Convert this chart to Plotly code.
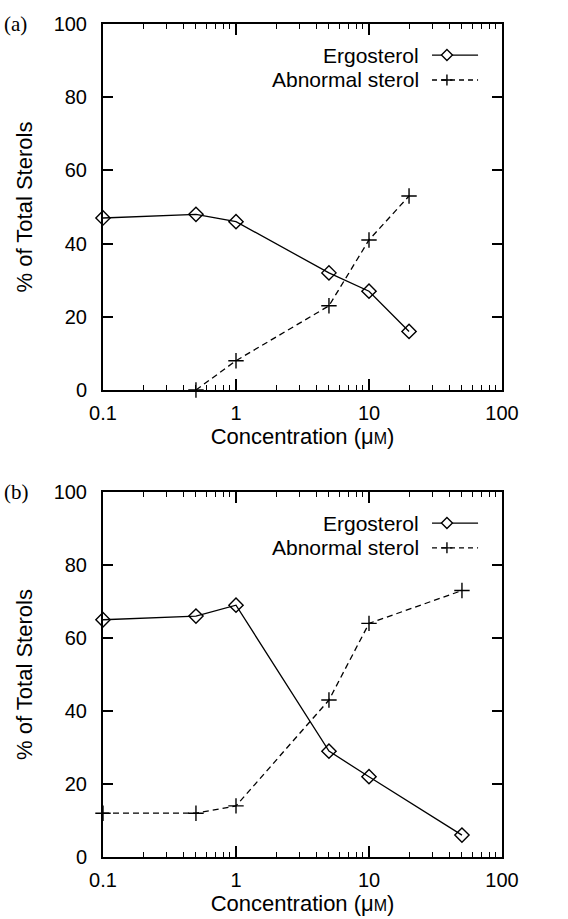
import plotly.graph_objects as go

# ---- data ----
conc_a = [0.1, 0.5, 1, 5, 10, 20]
ergo_a = [47, 48, 46, 32, 27, 16]
abn_conc_a = [0.5, 1, 5, 10, 20]
abn_a = [0, 8, 23, 41, 53]

conc_b = [0.1, 0.5, 1, 5, 10, 50]
ergo_b = [65, 66, 69, 29, 22, 6]
abn_b = [12, 12, 14, 43, 64, 73]

x_ticks = [0.1, 1, 10, 100]
x_tick_labels = ["0.1", "1", "10", "100"]
x_minor_ticks = [m * d for d in (0.1, 1, 10) for m in range(2, 10)]
y_ticks = [0, 20, 40, 60, 80, 100]

FONT = "Liberation Sans, Arial, Helvetica, sans-serif"
BLACK = "black"

fig = go.Figure()

def add_panel(xs, ys, xa, ya, sym, dash, name):
    fig.add_trace(go.Scatter(
        x=xs, y=ys, xaxis=xa, yaxis=ya, mode="lines+markers", name=name,
        line=dict(color=BLACK, width=1.3, dash=dash),
        marker=dict(symbol=sym, size=11 if "diamond" in sym else 11,
                    color=BLACK, line=dict(color=BLACK, width=1.4)),
        cliponaxis=False, showlegend=False))

add_panel(conc_a, ergo_a, "x", "y", "diamond-open", "solid", "Ergosterol")
add_panel(abn_conc_a, abn_a, "x", "y", "cross-thin-open", "6px,4px", "Abnormal sterol")
add_panel(conc_b, ergo_b, "x2", "y2", "diamond-open", "solid", "Ergosterol")
add_panel(conc_b, abn_b, "x2", "y2", "cross-thin-open", "6px,4px", "Abnormal sterol")

def xaxis(anchor):
    return dict(type="log", range=[-1, 2], anchor=anchor,
                tickvals=x_ticks, ticktext=x_tick_labels,
                ticks="inside", ticklen=11, tickwidth=1.5, tickcolor=BLACK,
                minor=dict(ticks="inside", tickvals=x_minor_ticks, ticklen=5, tickwidth=1.3,
                           tickcolor=BLACK, showgrid=False),
                showline=True, linecolor=BLACK, linewidth=2, mirror="allticks",
                showgrid=False, zeroline=False, ticklabelstandoff=4,
                tickfont=dict(family=FONT, size=20, color=BLACK),
                title=dict(text="Concentration (μ<span style='font-size:16px'>M</span>)",
                           font=dict(family=FONT, size=22, color=BLACK), standoff=2))

def yaxis(anchor, domain):
    return dict(range=[0, 100], domain=domain, anchor=anchor,
                tickvals=y_ticks, ticks="inside", ticklen=10, tickwidth=1.5, tickcolor=BLACK,
                showline=True, linecolor=BLACK, linewidth=2, mirror="allticks",
                showgrid=False, zeroline=False, ticklabelstandoff=10,
                tickfont=dict(family=FONT, size=20, color=BLACK),
                title=dict(text="% of Total Sterols",
                           font=dict(family=FONT, size=22, color=BLACK), standoff=15))

dom_a = [467 / 833, 1.0]
dom_b = [0.0, 365 / 833]

fig.update_layout(
    width=568, height=919,
    margin=dict(l=103, r=66, t=24, b=62),
    paper_bgcolor="white", plot_bgcolor="white",
    xaxis=xaxis("y"), yaxis=yaxis("x", dom_a),
    xaxis2=xaxis("y2"), yaxis2=yaxis("x2", dom_b),
    showlegend=False,
)

annotations = []
shapes = []
legend_items = [("Ergosterol", "solid", "diamond", 0.915),
                ("Abnormal sterol", "dash", "plus", 0.847)]
for xr, yr in [("x domain", "y domain"), ("x2 domain", "y2 domain")]:
    for label, dash, sym, yy in legend_items:
        annotations.append(dict(text=label, xref=xr, yref=yr, x=0.797, y=yy,
                                xanchor="right", yanchor="middle", showarrow=False,
                                font=dict(family=FONT, size=21, color=BLACK)))
        shapes.append(dict(type="line", xref=xr, yref=yr, x0=0.8246, x1=0.94, y0=yy, y1=yy,
                           line=dict(color=BLACK, width=1.3, dash="solid" if dash == "solid" else "5px,4px")))
        if sym == "diamond":
            path = "M -5.5 0 L 0 5.5 L 5.5 0 L 0 -5.5 Z"
            fill = "white"
        else:
            path = "M -5.5 0 L 5.5 0 M 0 -5.5 L 0 5.5"
            fill = None
        sh = dict(type="path", xref=xr, yref=yr, xsizemode="pixel", ysizemode="pixel",
                  xanchor=0.862, yanchor=yy, path=path,
                  line=dict(color=BLACK, width=1.4))
        if fill:
            sh["fillcolor"] = fill
        shapes.append(sh)

annotations.append(dict(text="(a)", xref="paper", yref="paper", x=-103 / 399 + 2 / 399, y=1.0,
                        xanchor="left", yanchor="middle", showarrow=False,
                        font=dict(family="Liberation Serif, Times New Roman, serif", size=21, color=BLACK)))
annotations.append(dict(text="(b)", xref="paper", yref="paper", x=-103 / 399 + 2 / 399, y=365 / 833,
                        xanchor="left", yanchor="middle", showarrow=False,
                        font=dict(family="Liberation Serif, Times New Roman, serif", size=21, color=BLACK)))

fig.update_layout(annotations=annotations, shapes=shapes)

fig.write_html("out.html")
